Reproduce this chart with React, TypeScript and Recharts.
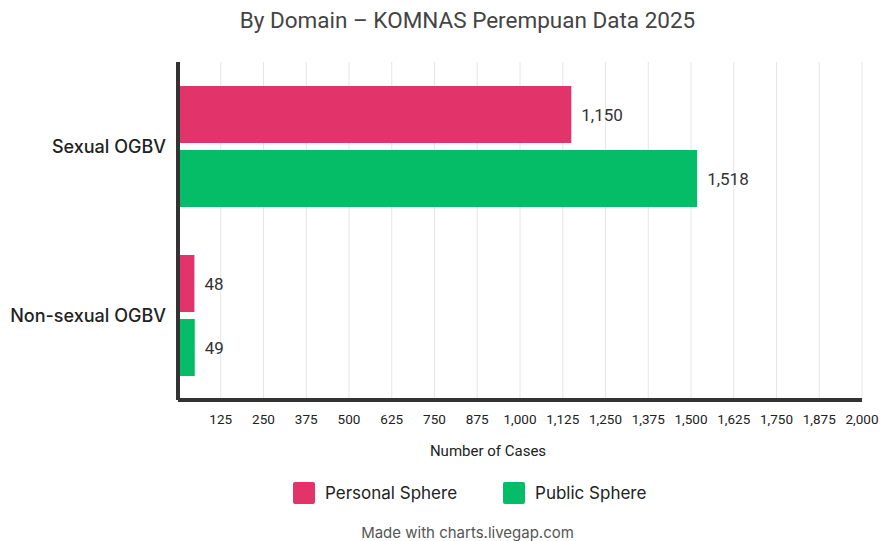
import React from 'react';
import { BarChart, Bar, XAxis, YAxis, CartesianGrid, LabelList } from 'recharts';

const domains = ['Sexual OGBV', 'Non-sexual OGBV'];
const personalSphere = [1150, 48];
const publicSphere = [1518, 49];
const xTicks = [125, 250, 375, 500, 625, 750, 875, 1000, 1125, 1250, 1375, 1500, 1625, 1750, 1875, 2000];
const seriesNames = ['Personal Sphere', 'Public Sphere'];
const seriesColors = ['#E2336B', '#05BC67'];

const data = domains.map((d, i) => ({
  domain: d,
  personal: personalSphere[i],
  public: publicSphere[i],
}));

const fmt = (v: any) => Number(v).toLocaleString('en-US');

export default function App() {
  return (
    <div
      style={{
        position: 'absolute',
        left: 0,
        top: 0,
        width: 881,
        height: 541,
        background: '#fff',
        fontFamily: 'Roboto, sans-serif',
      }}
    >
      <div
        style={{
          position: 'absolute',
          left: 0,
          width: 935,
          top: 7,
          textAlign: 'center',
          fontSize: 22.5,
          color: '#444',
        }}
      >
        By Domain – KOMNAS Perempuan Data 2025
      </div>
      <BarChart
        width={881}
        height={541}
        data={data}
        layout="vertical"
        margin={{ top: 62, right: 19, bottom: 81, left: 0 }}
        barGap={7}
        barSize={57}
      >
        <CartesianGrid horizontal={false} stroke="#e6e6e6" />
        <XAxis
          type="number"
          domain={[0, 2000]}
          ticks={xTicks}
          interval={0}
          tickFormatter={fmt}
          tickLine={false}
          tickMargin={8}
          axisLine={{ stroke: '#333', strokeWidth: 4 }}
          tick={{ fontSize: 13.5, fill: '#222', fontFamily: 'Roboto' }}
          height={60}
          label={{
            value: 'Number of Cases',
            position: 'insideBottom',
            offset: 4,
            dx: -32,
            style: { fontSize: 15, fill: '#222', fontFamily: 'Roboto' },
          }}
        />
        <YAxis
          type="category"
          dataKey="domain"
          width={178}
          tickLine={false}
          tickMargin={6}
          axisLine={{ stroke: '#333', strokeWidth: 4 }}
          tick={{ fontSize: 18, fill: '#222', fontFamily: 'Inter', fontWeight: 500 }}
        />
        <Bar dataKey="personal" name={seriesNames[0]} fill={seriesColors[0]} isAnimationActive={false}>
          <LabelList
            dataKey="personal"
            position="right"
            offset={10}
            formatter={fmt}
            style={{ fontSize: 17, fill: '#333', fontFamily: 'Roboto' }}
          />
        </Bar>
        <Bar dataKey="public" name={seriesNames[1]} fill={seriesColors[1]} isAnimationActive={false}>
          <LabelList
            dataKey="public"
            position="right"
            offset={10}
            formatter={fmt}
            style={{ fontSize: 17, fill: '#333', fontFamily: 'Roboto' }}
          />
        </Bar>
      </BarChart>
      <div style={{ position: 'absolute', top: 482, left: 293, display: 'flex', alignItems: 'center' }}>
        {seriesNames.map((n, i) => (
          <div key={n} style={{ display: 'flex', alignItems: 'center', marginRight: i === 0 ? 46 : 0 }}>
            <div style={{ width: 22, height: 22, background: seriesColors[i], borderRadius: 2, marginRight: 10 }} />
            <span style={{ fontSize: 17, color: '#222', fontFamily: 'Inter' }}>{n}</span>
          </div>
        ))}
      </div>
      <div
        style={{
          position: 'absolute',
          left: 0,
          width: 935,
          top: 523,
          textAlign: 'center',
          fontSize: 15,
          color: '#555',
          fontFamily: 'Inter',
        }}
      >
        Made with charts.livegap.com
      </div>
    </div>
  );
}
